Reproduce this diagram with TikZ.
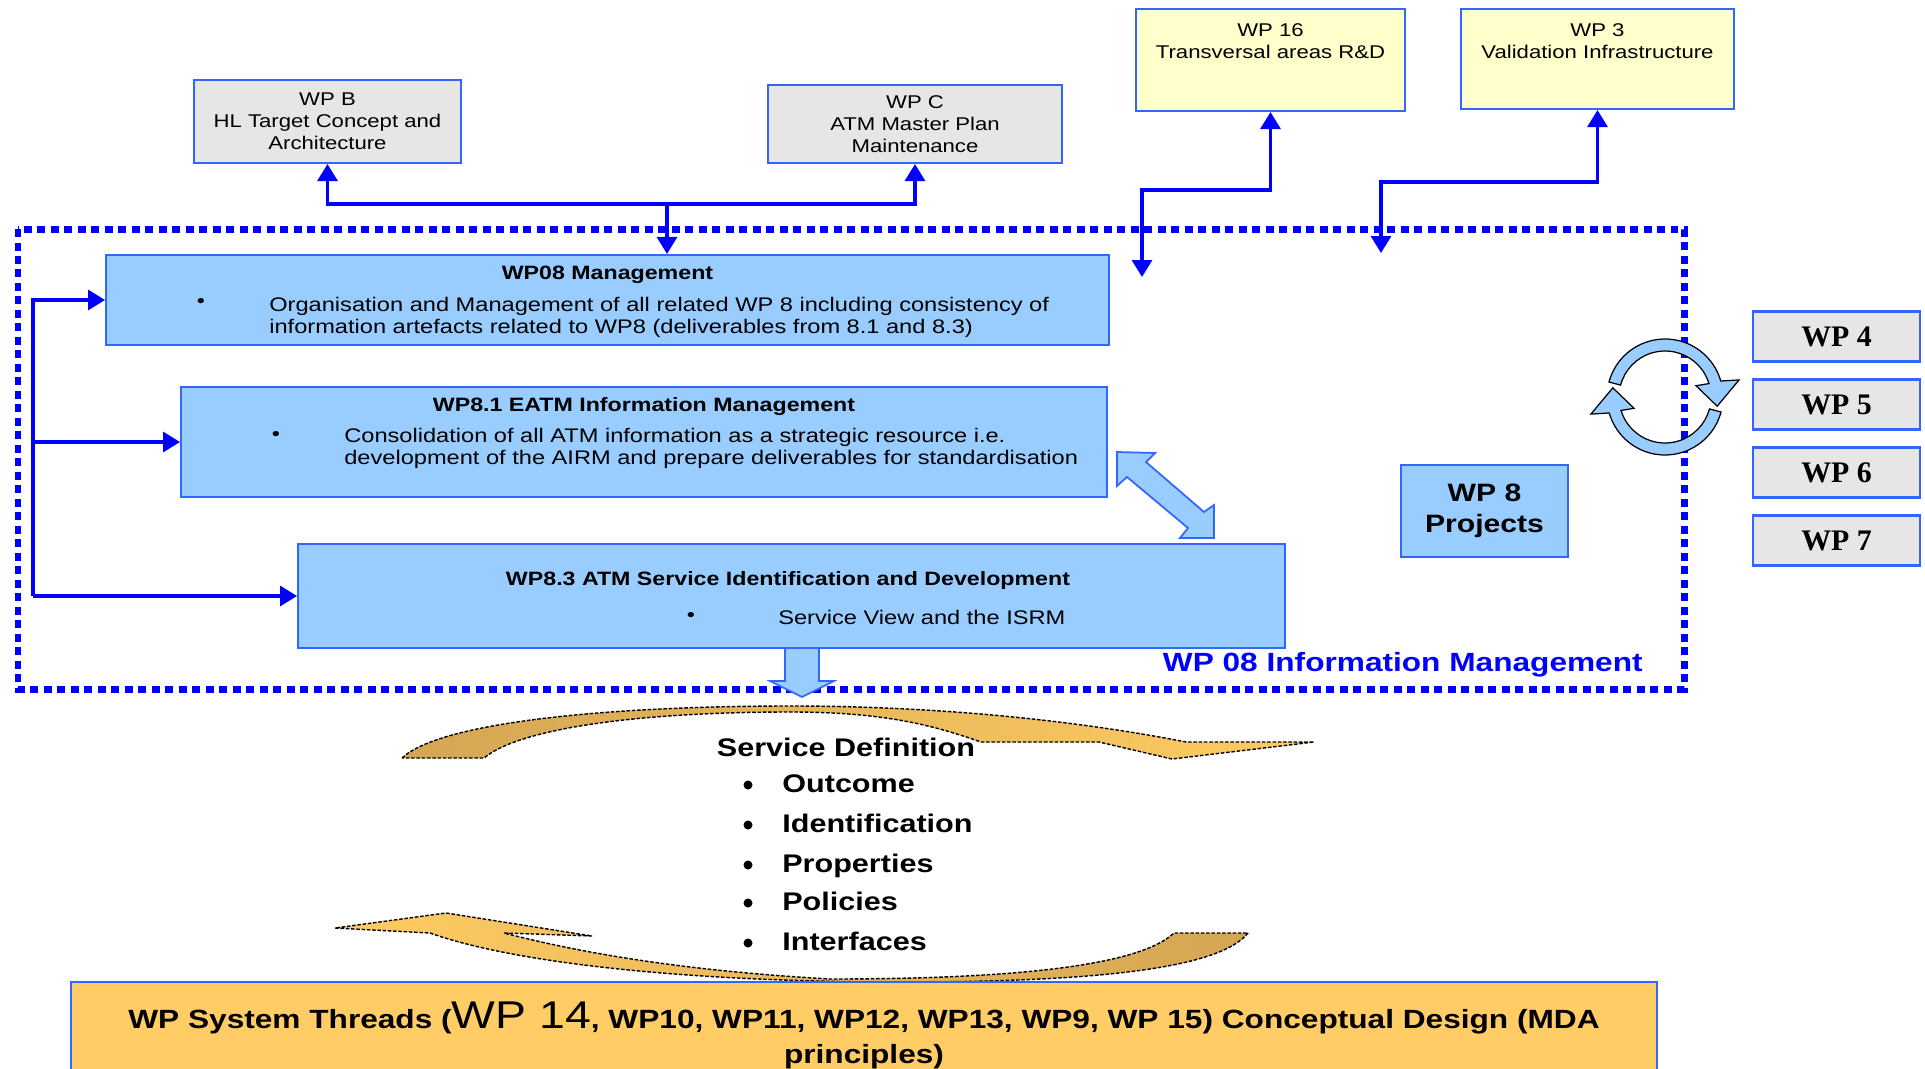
\documentclass[tikz,border=0pt]{standalone}
\usepackage{fontspec}
\setmainfont{Liberation Sans}[FakeStretch=1.2]
\newfontfamily\wpserif{Liberation Serif}
\usetikzlibrary{arrows.meta,calc}

\definecolor{boxblue}{RGB}{153,204,255}
\definecolor{edgeblue}{RGB}{51,102,255}
\definecolor{boxgray}{RGB}{230,230,230}
\definecolor{boxyellow}{RGB}{255,255,204}
\definecolor{threadgold}{RGB}{255,204,102}
\definecolor{arcdark}{RGB}{212,166,84}
\definecolor{arclight}{RGB}{255,204,98}
\definecolor{linkblue}{RGB}{0,0,255}

\begin{document}
\begin{tikzpicture}[x=0.02cm, y=-0.02cm, >={Triangle[width=0.4cm,length=0.34cm]},
    box/.style={draw=edgeblue, line width=1.2pt, inner sep=0pt, align=center},
    greybox/.style={box, fill=boxgray, font=\fontsize{10.5}{12.5}\selectfont},
    yellowbox/.style={box, fill=boxyellow},
    pkgbox/.style={box, fill=boxblue},
    sidebox/.style={box, fill=boxgray, font=\wpserif\bfseries\fontsize{17}{20}\selectfont,
        minimum width=3.34cm, minimum height=1cm},
    toptext/.style={font=\fontsize{10.5}{12.5}\selectfont, align=center, inner sep=0pt},
    boxtitle/.style={font=\bfseries\fontsize{11}{12.5}\selectfont, inner sep=0pt},
    boxbody/.style={font=\fontsize{11.2}{12.5}\selectfont, align=left, inner sep=0pt, anchor=west},
    dot/.style={font=\fontsize{11}{12.5}\selectfont, inner sep=0pt},
    biglabel/.style={font=\bfseries\fontsize{14.5}{17}\selectfont, inner sep=0pt},
    itemtxt/.style={biglabel, anchor=west, text height=10.4pt, text depth=0pt},
    link/.style={draw=linkblue, line width=1.8pt, ->},
    blockarrow/.style={fill=boxblue, draw=edgeblue, line width=1pt},
    goldarc/.style={draw=black, line width=0.8pt, dash pattern=on 2pt off 1pt},
    cycarrow/.style={fill=boxblue, draw=black, line width=0.7pt}]
    \useasboundingbox (0,0) rectangle (1925,1069);
    \clip (0,0) rectangle (1925,1069);

    % Work packages above
    \node[greybox, minimum width=5.34cm, minimum height=1.66cm] (wpb) at (327.5,121.5) {WP B\\HL Target Concept and\\Architecture};
    \node[greybox, minimum width=5.88cm, minimum height=1.56cm] (wpc) at (915,124) {WP C\\ATM Master Plan\\Maintenance};
    \node[yellowbox, minimum width=5.38cm, minimum height=2.04cm] (wp16) at (1270.5,60) {};
    \node[yellowbox, minimum width=5.46cm, minimum height=2cm] (wp3) at (1597.5,59) {};
    \node[toptext] (wp16t) at (1270.5,41) {WP 16\\Transversal areas R\&D};
    \node[toptext] (wp3t) at (1597.5,41) {WP 3\\Validation Infrastructure};

    % WP 08 area
    \draw[linkblue, line width=0.14cm, dash pattern=on 0.16cm off 0.11cm] (18,229) rectangle (1684,689);
    \node[biglabel, font=\bfseries\fontsize{15}{17}\selectfont, text=linkblue, anchor=east] (imlabel) at (1643,665) {WP 08 Information Management};

    \node[pkgbox, minimum width=20.06cm, minimum height=1.8cm] (mgmt) at (607.5,300) {};
    \node[boxtitle] (mgmtt) at (607.5,275) {WP08 Management};
    \node[dot] (mgmtd) at (201,303) {•};
    \node[boxbody] (mgmtb) at (269,317) {Organisation and Management of all related WP 8 including consistency of\\information artefacts related to WP8 (deliverables from 8.1 and 8.3)};

    \node[pkgbox, minimum width=18.52cm, minimum height=2.2cm] (eatm) at (644,442) {};
    \node[boxtitle] (eatmt) at (644,407) {WP8.1 EATM Information Management};
    \node[dot] (eatmd) at (276,436) {•};
    \node[boxbody] (eatmb) at (344,448.5) {Consolidation of all ATM information as a strategic resource i.e.\\development of the AIRM and prepare deliverables for standardisation};

    \node[pkgbox, minimum width=19.74cm, minimum height=2.08cm] (svc) at (791.5,596) {};
    \node[boxtitle] (svct) at (788,580) {WP8.3 ATM Service Identification and Development};
    \node[dot] (svcd) at (691,617) {•};
    \node[boxbody] (svcb) at (778,617) {Service View and the ISRM};

    \node[pkgbox, minimum width=3.34cm, minimum height=1.84cm, font=\bfseries\fontsize{14.3}{18}\selectfont] (proj) at (1484.5,511) {WP 8\\Projects};

    % WP 4 to WP 7
    \foreach \n [count=\i] in {4,...,7}
        \node[sidebox] (wp\n) at (1836.5,268.5+68*\i) {WP \n};

    % Connectors
    \coordinate (jtop) at (667,204);
    \draw[link, <->] (wpb.south) |- (jtop) -| (wpc.south);
    \draw[link] (jtop) -- (jtop|-mgmt.north);
    \coordinate (bend16) at (1142,190);
    \coordinate (end16) at (1142,277);
    \draw[link, <->] (wp16.south) |- (bend16) -- (end16);
    \coordinate (bend3) at (1381,182);
    \coordinate (end3) at (1381,253);
    \draw[link, <->] (wp3.south) |- (bend3) -- (end3);
    \coordinate (spine) at (33,597);
    \draw[link] (spine|-svc.west) -- (svc.west);
    \draw[link] (spine|-svc.west) |- (mgmt.west);
    \draw[link] (spine|-eatm.west) -- (eatm.west);

    % Block arrows
    \draw[blockarrow] (1117,452) -- (1155,453) -- (1146,462) -- (1204,512) -- (1214,505) -- (1214,538)
        -- (1180,538) -- (1188,528) -- (1127,477) -- (1117,486) -- cycle;
    \draw[blockarrow] (785,648) -- (785,681) -- (770,681) -- (802,697) -- (834,681) -- (819,681) -- (819,648) -- cycle;

    % Cycle between WP 8 and WP 4-7
    \coordinate (cyc) at (1665,397);
    \foreach \rot in {0,180}
        \draw[cycarrow, rotate around={\rot:(cyc)}] ($(cyc)+(195:58)$) arc[start angle=195, end angle=344, radius=58]
            -- ($(cyc)+(347:76)$) -- ($(cyc)+(370:53)$) -- ($(cyc)+(340:33)$) -- ($(cyc)+(343:46)$)
            arc[start angle=343, end angle=195, radius=46] -- cycle;

    % Service definition cycle
    \draw[goldarc, left color=arcdark, right color=arclight] (402,758) .. controls (440,722) and (610,706) .. (790,706)
        .. controls (960,706) and (1100,725) .. (1186,742) -- (1314,742) -- (1172,759) -- (1099,742) -- (981,742)
        .. controls (930,724) and (880,712) .. (790,712) .. controls (640,712) and (520,728) .. (484,758) -- cycle;
    \draw[goldarc, left color=arclight, right color=arcdark] (1248,933) .. controls (1220,968) and (1100,982) .. (900,982)
        .. controls (700,982) and (520,965) .. (430,933) -- (335,928) -- (446,913) -- (592,936) -- (504,933)
        .. controls (570,950) and (670,970) .. (830,979) .. controls (1020,979) and (1140,965) .. (1174,933) -- cycle;

    \node[biglabel] (sdef) at (846,747) {Service Definition};
    \foreach \lbl/\yy [count=\i] in {Outcome/785, Identification/825, Properties/865, Policies/903, Interfaces/943} {
        \node[itemtxt] (item\i) at (782,\yy-2) {\lbl};
        \fill (748,\yy) circle (4.5);
    }

    % System threads
    \node[box, fill=threadgold, minimum width=31.72cm, minimum height=2.14cm, font=\bfseries\fontsize{15}{19.8}\selectfont] (threads) at (864,1035.5)
        {WP System Threads ({\mdseries\fontsize{22}{22}\selectfont WP 14}, WP10, WP11, WP12, WP13, WP9, WP 15) Conceptual Design (MDA\\principles)};
\end{tikzpicture}
\end{document}
